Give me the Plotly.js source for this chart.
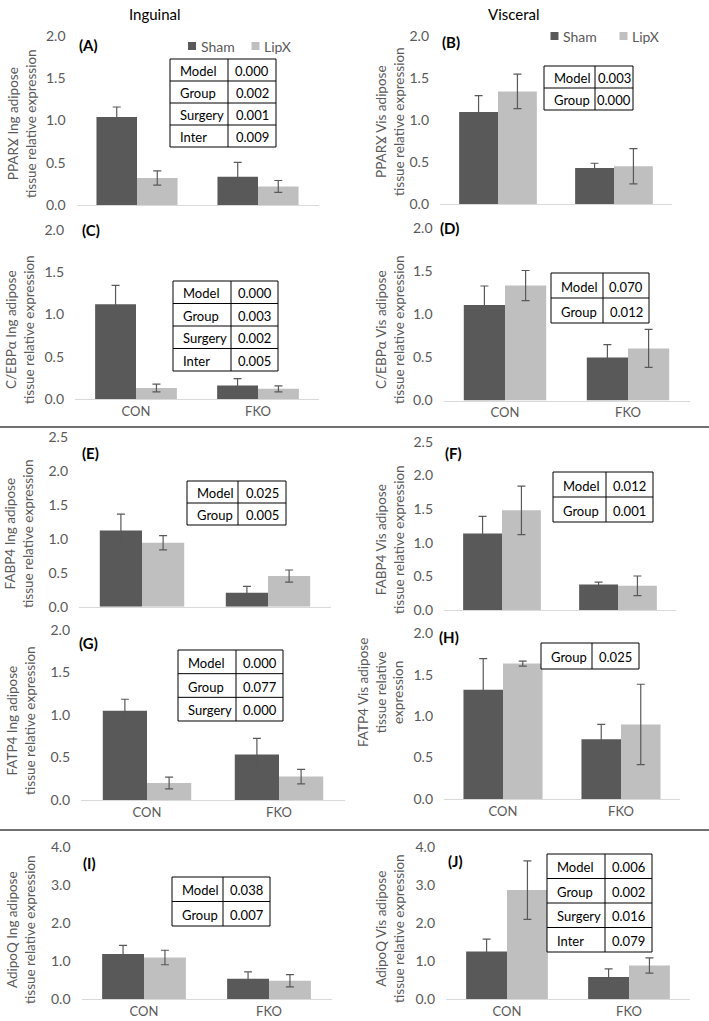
<!DOCTYPE html>
<html><head><meta charset="utf-8">
<script src="https://cdn.plot.ly/plotly-3.0.1.min.js"></script>
<style>html,body{margin:0;padding:0;background:#fff;overflow:hidden}#chart{width:709px;height:1021px}</style>
</head><body><div id="chart"></div>
<script>
// ---------------- data ----------------
const categories = ['CON', 'FKO'];
const seriesNames = ['Sham', 'LipX'];
const columnTitles = ['Inguinal', 'Visceral'];
const panelLabels = ['(A)', '(B)', '(C)', '(D)', '(E)', '(F)', '(G)', '(H)', '(I)', '(J)'];
const yTitles = [
  'PPARƔ Ing adipose<br>tissue relative expression',
  'PPARƔ Vis adipose<br>tissue relative expression',
  'C/EBPα Ing adipose<br>tissue relative expression',
  'C/EBPα Vis adipose<br>tissue relative expression',
  'FABP4 Ing adipose<br>tissue relative expression',
  'FABP4 Vis adipose<br>tissue relative expression',
  'FATP4 Ing adipose<br>tissue relative expression',
  'FATP4 Vis adipose<br>tissue relative<br>expression',
  'AdipoQ Ing adipose<br>tissue relative expression',
  'AdipoQ Vis adipose<br>tissue relative expression'
];
const shamMean = [[1.04, 0.335], [1.095, 0.43], [1.12, 0.16], [1.11, 0.50], [1.12, 0.205],
                  [1.135, 0.38], [1.05, 0.535], [1.32, 0.72], [1.18, 0.53], [1.245, 0.58]];
const shamErr  = [[0.12, 0.17], [0.195, 0.055], [0.225, 0.08], [0.22, 0.15], [0.24, 0.095],
                  [0.255, 0.035], [0.135, 0.19], [0.375, 0.18], [0.23, 0.18], [0.325, 0.21]];
const lipxMean = [[0.32, 0.22], [1.34, 0.45], [0.13, 0.12], [1.335, 0.605], [0.94, 0.45],
                  [1.48, 0.36], [0.20, 0.275], [1.635, 0.90], [1.09, 0.48], [2.86, 0.88]];
const lipxErr  = [[0.085, 0.07], [0.205, 0.21], [0.045, 0.035], [0.175, 0.22], [0.105, 0.09],
                  [0.36, 0.145], [0.07, 0.085], [0.03, 0.485], [0.19, 0.16], [0.77, 0.2]];
const yMax      = [2, 2, 2, 2, 2.5, 2.5, 2, 2, 4, 4];
const yTickStep = [0.5, 0.5, 0.5, 0.5, 0.5, 0.5, 0.5, 0.5, 1, 1];
const statTerms = [
  ['Model', 'Group', 'Surgery', 'Inter'], ['Model', 'Group'],
  ['Model', 'Group', 'Surgery', 'Inter'], ['Model', 'Group'],
  ['Model', 'Group'], ['Model', 'Group'],
  ['Model', 'Group', 'Surgery'], ['Group'],
  ['Model', 'Group'], ['Model', 'Group', 'Surgery', 'Inter']
];
const statP = [
  ['0.000', '0.002', '0.001', '0.009'], ['0.003', '0.000'],
  ['0.000', '0.003', '0.002', '0.005'], ['0.070', '0.012'],
  ['0.025', '0.005'], ['0.012', '0.001'],
  ['0.000', '0.077', '0.000'], ['0.025'],
  ['0.038', '0.007'], ['0.006', '0.002', '0.016', '0.079']
];

// ---------------- layout geometry (pixels) ----------------
const W = 709, H = 1021;
const FONT = 'Lato, "Open Sans", sans-serif';
const GREY = '#595959';
const px = x => x / W;
const py = y => 1 - y / H;
// plot frames: [left, right, top, bottom]
const frames = [
  [76.5, 318.5, 36, 205], [440, 672, 36, 204],
  [75, 319, 230, 399], [443.5, 689.5, 228.3, 400.5],
  [79, 331, 436.7, 606.7], [444, 676, 441.7, 610],
  [81, 345, 630, 800], [444, 680, 633.3, 799],
  [81.5, 331.5, 846.7, 999], [446, 690, 846.7, 999]
];
const showX = [false, false, true, true, false, false, true, true, true, true];
// tables: [x0, xdiv, x1, y0, y1]
const tables = [
  [170, 228, 276, 59, 147], [544, 595, 633, 66, 110],
  [173, 231, 278, 281, 371], [551, 603, 649, 273, 323],
  [187, 238, 286, 481, 525], [553, 606, 653, 472, 522],
  [178, 236, 283, 650, 721], [541, 592, 639, 643, 669],
  [172, 223, 270, 877, 926], [547, 605, 652, 854, 952]
];
const labelPos = [[88, 45], [451, 42], [91, 230], [449, 228], [90, 453], [453, 453], [88, 643], [449, 637], [89, 863], [455, 861]];
const yTitlePos = [[22, 124], [390, 122], [20, 330], [390, 330], [19, 534], [390, 540], [21, 721], [380, 693], [21, 930], [390, 929]];
// legend keys: [swatchLeft, textLeft, centerY] for Sham and LipX in panels A and B
const legendKeys = [
  [[188, 198.5, 46], [251.5, 261.5, 46]],
  [[550.5, 561, 36], [619.5, 630, 36]]
];

const colors = ['#595959', '#BFBFBF'];
const traces = [];
const layout = {
  width: W, height: H, autosize: false,
  margin: {l: 0, r: 0, t: 0, b: 0, pad: 0},
  paper_bgcolor: '#fff', plot_bgcolor: 'rgba(0,0,0,0)',
  barmode: 'group', bargap: 0.33, bargroupgap: 0,
  showlegend: false,
  font: {family: FONT, color: GREY},
  shapes: [], annotations: []
};

for (let i = 0; i < 10; i++) {
  const s = i === 0 ? '' : String(i + 1);
  const [L, R, T, B] = frames[i];
  const means = [shamMean[i], lipxMean[i]];
  const errs = [shamErr[i], lipxErr[i]];
  for (let k = 0; k < 2; k++) {
    traces.push({
      type: 'bar', x: categories, y: means[k], name: seriesNames[k],
      xaxis: 'x' + s, yaxis: 'y' + s,
      marker: {color: colors[k], line: {width: 0}},
      error_y: {type: 'data', array: errs[k], visible: true, color: GREY, thickness: 1.2, width: 4},
      showlegend: false, hoverinfo: 'y'
    });
  }
  layout['xaxis' + s] = {
    domain: [px(L), px(R)], anchor: 'y' + s, type: 'category', range: [-0.5, 1.5],
    showline: true, linecolor: '#D9D9D9', linewidth: 1, showgrid: false, zeroline: false,
    ticks: '', showticklabels: showX[i], ticklabelstandoff: 0, automargin: false,
    tickfont: {family: FONT, size: 13, color: GREY}, fixedrange: true
  };
  layout['yaxis' + s] = {
    domain: [py(B), py(T)], anchor: 'x' + s, range: [0, yMax[i]],
    tick0: 0, dtick: yTickStep[i], tickformat: '.1f', automargin: false,
    showgrid: false, zeroline: false, showline: false, ticks: '', ticklabelstandoff: 10,
    tickfont: {family: FONT, size: 14, color: GREY}, fixedrange: true
  };
  // y title
  layout.annotations.push({
    xref: 'paper', yref: 'paper', x: px(yTitlePos[i][0]), y: py(yTitlePos[i][1]),
    xanchor: 'center', yanchor: 'middle', textangle: -90, showarrow: false,
    text: yTitles[i], font: {family: FONT, size: 13.5, color: GREY}
  });
  // panel label
  layout.annotations.push({
    xref: 'paper', yref: 'paper', x: px(labelPos[i][0]), y: py(labelPos[i][1]),
    xanchor: 'center', yanchor: 'middle', showarrow: false,
    text: '<b>' + panelLabels[i] + '</b>', font: {family: FONT, size: 15, color: '#000'}
  });
  // stats table
  const [x0, xd, x1, y0, y1] = tables[i];
  const n = statTerms[i].length;
  const rh = (y1 - y0) / n;
  const ln = {color: '#000', width: 1};
  layout.shapes.push({type: 'rect', xref: 'paper', yref: 'paper', x0: px(x0), x1: px(x1), y0: py(y0), y1: py(y1), line: ln, fillcolor: '#fff', layer: 'above'});
  layout.shapes.push({type: 'line', xref: 'paper', yref: 'paper', x0: px(xd), x1: px(xd), y0: py(y0), y1: py(y1), line: ln, layer: 'above'});
  for (let r = 0; r < n; r++) {
    if (r > 0) layout.shapes.push({type: 'line', xref: 'paper', yref: 'paper', x0: px(x0), x1: px(x1), y0: py(y0 + r * rh), y1: py(y0 + r * rh), line: ln, layer: 'above'});
    const cy = y0 + (r + 0.55) * rh;
    layout.annotations.push({xref: 'paper', yref: 'paper', x: px(x0 + 8), y: py(cy), xanchor: 'left', yanchor: 'middle',
      showarrow: false, text: statTerms[i][r], font: {family: FONT, size: 13, color: '#000'}});
    layout.annotations.push({xref: 'paper', yref: 'paper', x: px((xd + x1) / 2), y: py(cy), xanchor: 'center', yanchor: 'middle',
      showarrow: false, text: statP[i][r], font: {family: FONT, size: 13, color: '#000'}});
  }
}
// legend keys (panels A and B)
legendKeys.forEach(keys => keys.forEach(([sx, tx, cy], k) => {
  layout.shapes.push({type: 'rect', xref: 'paper', yref: 'paper', x0: px(sx), x1: px(sx + 8), y0: py(cy + 4), y1: py(cy - 4),
    line: {width: 0}, fillcolor: colors[k]});
  layout.annotations.push({xref: 'paper', yref: 'paper', x: px(tx), y: py(cy), xanchor: 'left', yanchor: 'middle', showarrow: false,
    text: seriesNames[k], font: {family: FONT, size: 14, color: GREY}});
}));
// column titles
layout.annotations.push({xref: 'paper', yref: 'paper', x: px(155), y: py(14), xanchor: 'center', yanchor: 'middle', showarrow: false,
  text: columnTitles[0], font: {family: FONT, size: 15, color: '#000'}});
layout.annotations.push({xref: 'paper', yref: 'paper', x: px(514), y: py(14), xanchor: 'center', yanchor: 'middle', showarrow: false,
  text: columnTitles[1], font: {family: FONT, size: 15, color: '#000'}});
// section separators
[427, 830].forEach(y => layout.shapes.push({type: 'line', xref: 'paper', yref: 'paper', x0: 0, x1: 1, y0: py(y), y1: py(y), line: {color: '#404040', width: 1.5}}));

Plotly.newPlot('chart', traces, layout, {displayModeBar: false, staticPlot: true});
</script></body></html>
